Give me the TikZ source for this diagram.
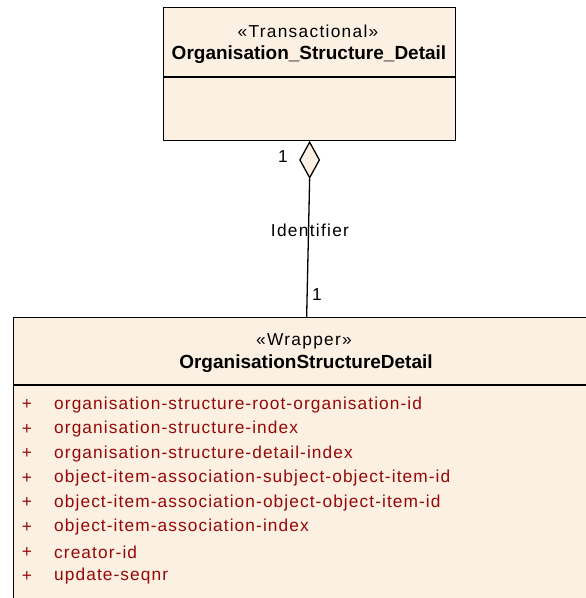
\documentclass[tikz,border=0pt]{standalone}
\usepackage{fontspec}
\setmainfont{Liberation Sans}
\newfontfamily\spacedfont[LetterSpace=7.5]{Liberation Sans}
\newfontfamily\attrfont[LetterSpace=6.3]{Liberation Sans}
\usetikzlibrary{shapes.geometric}
\definecolor{boxfill}{RGB}{251,240,225}
\definecolor{attrred}{RGB}{150,8,8}
\tikzset{
  umlbox/.style={draw=black, line width=1.3pt, fill=boxfill, inner sep=0pt, anchor=north west},
  divider/.style={draw=black, line width=1.3pt},
  stereo/.style={font=\spacedfont\fontsize{17.3}{20}\selectfont, inner sep=0pt},
  cname/.style={font=\fontsize{19}{22}\selectfont\bfseries, inner sep=0pt},
  lbl/.style={font=\spacedfont\fontsize{17.3}{20}\selectfont, inner sep=0pt},
  attrtxt/.style={font=\attrfont\fontsize{17.3}{20}\selectfont, text=attrred, inner sep=0pt, anchor=west},
  plus/.style={font=\fontsize{17.3}{20}\selectfont, text=attrred, inner sep=0pt},
  assoc/.style={draw=black, line width=1.3pt},
}
\begin{document}
\begin{tikzpicture}[x=1pt,y=-1pt]
\useasboundingbox (0,0) rectangle (586,598);
\clip (0,0) rectangle (586,598);
\fill[white] (0,0) rectangle (586,598);
% top class
\node[umlbox, minimum width=292pt, minimum height=133pt] (top) at (163,7) {};
\draw[divider] ([yshift=-70pt]top.north west) -- ([yshift=-70pt]top.north east);
\node[stereo] (tster) at (308,31) {«Transactional»};
\node[cname] (tname) at (309,55) {Organisation\_Structure\_Detail};
% bottom class
\node[umlbox, minimum width=586pt, minimum height=320pt] (bot) at (13,317) {};
\draw[divider] ([yshift=-68pt]bot.north west) -- ([yshift=-68pt]bot.north east);
\node[stereo] (bster) at (304,341) {«Wrapper»};
\node[cname] (bname) at (306,364) {OrganisationStructureDetail};
% attributes
\foreach \i/\t in {0/organisation-structure-root-organisation-id,
                   1/organisation-structure-index,
                   2/organisation-structure-detail-index,
                   3/object-item-association-subject-object-item-id,
                   4/object-item-association-object-object-item-id,
                   5/object-item-association-index,
                   6/creator-id,
                   7/update-seqnr}{
  \node[plus] (p\i) at (27,{405+24.5*\i}) {+};
  \node[attrtxt] (a\i) at (54,{405+24.5*\i}) {\t};
}
% association
\node[diamond, draw=black, line width=1.3pt, fill=boxfill, minimum width=20pt, minimum height=36pt, inner sep=0pt, anchor=north] (dia) at (top.south) {};
\draw[assoc] (dia.south) -- (bot.north);
\node[lbl] (m1) at (283,157) {1};
\node[lbl] (rn) at (310,230) {Identifier};
\node[lbl] (m2) at (317,295) {1};
\end{tikzpicture}
\end{document}
